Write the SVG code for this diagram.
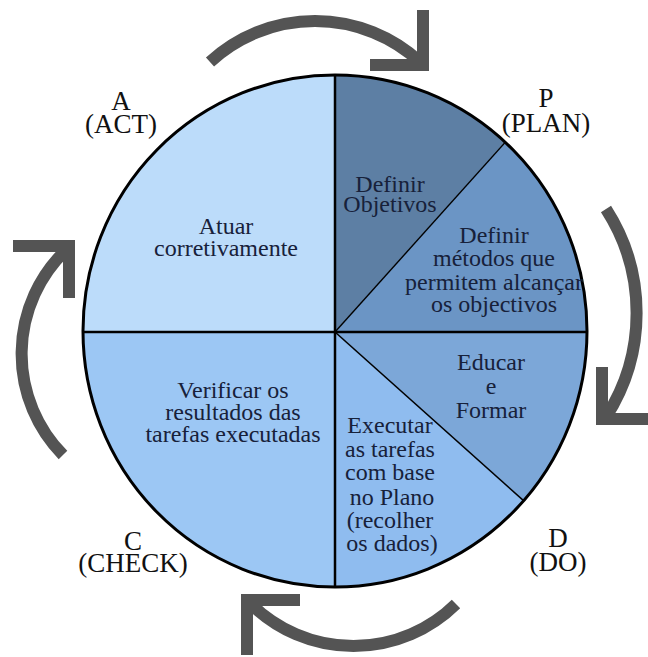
<svg xmlns="http://www.w3.org/2000/svg" width="648" height="657" viewBox="0 0 648 657">
  <style>
    .txt { font-size: 24px; fill: #17213a; text-anchor: middle; }
    .lbl { font-size: 27px; fill: #111111; text-anchor: middle; }
    .arrow { fill: none; stroke: #545454; stroke-width: 12; stroke-linecap: butt; stroke-linejoin: miter; }
    .div { stroke: #000000; fill: none; }
  </style>
  <defs>
    <clipPath id="disc">
      <ellipse cx="335" cy="331" rx="252" ry="256"/>
    </clipPath>
  </defs>

  <rect x="0" y="0" width="648" height="657" fill="#ffffff"/>

  <!-- circular cycle: sectors clipped by the disc -->
  <g id="sectors" clip-path="url(#disc)">
    <g id="act"><polygon points="0,0 335,0 335,332 0,332" fill="#bcdcfa"/></g>
    <g id="check"><polygon points="0,332 335,332 335,657 0,657" fill="#9cc7f4"/></g>
    <g id="plan-objetivos"><polygon points="335,332 335,0 633,0" fill="#5d7fa4"/></g>
    <g id="plan-metodos"><polygon points="335,332 633,0 648,0 648,332" fill="#6b95c5"/></g>
    <g id="do-educar"><polygon points="335,332 648,332 648,612" fill="#7ca7d8"/></g>
    <g id="do-executar"><polygon points="335,332 648,612 648,657 335,657" fill="#8fbcef"/></g>
    <line class="div" x1="60" y1="332" x2="610" y2="332" stroke-width="2.5"/>
    <line class="div" x1="335" y1="60" x2="335" y2="600" stroke-width="2.5"/>
    <line class="div" x1="335" y1="332" x2="633" y2="0" stroke-width="1.4"/>
    <line class="div" x1="335" y1="332" x2="648" y2="612" stroke-width="1.6"/>
  </g>
  <ellipse cx="335" cy="331" rx="252" ry="256" fill="none" stroke="#000000" stroke-width="3"/>

  <g font-family="'Liberation Serif', 'Times New Roman', serif">
  <!-- sector texts -->
  <text class="txt"><tspan x="226" y="234">Atuar</tspan><tspan x="226" y="256">corretivamente</tspan></text>
  <text class="txt"><tspan x="390" y="192">Definir</tspan><tspan x="390" y="212">Objetivos</tspan></text>
  <text class="txt"><tspan x="494" y="243">Definir</tspan><tspan x="494" y="266">métodos que</tspan><tspan x="494" y="290">permitem alcançar</tspan><tspan x="494" y="312">os objectivos</tspan></text>
  <text class="txt"><tspan x="491" y="370">Educar</tspan><tspan x="491" y="394">e</tspan><tspan x="491" y="418">Formar</tspan></text>
  <text class="txt"><tspan x="390" y="433">Executar</tspan><tspan x="390" y="457">as tarefas</tspan><tspan x="390" y="480">com base</tspan><tspan x="392" y="505">no Plano</tspan><tspan x="390" y="528">(recolher</tspan><tspan x="392" y="551">os dados)</tspan></text>
  <text class="txt"><tspan x="233" y="398">Verificar os</tspan><tspan x="233" y="420">resultados das</tspan><tspan x="233" y="442">tarefas executadas</tspan></text>

  <!-- phase labels -->
  <g id="label-a"><text class="lbl"><tspan x="121" y="110">A</tspan><tspan x="121" y="133">(ACT)</tspan></text></g>
  <g id="label-p"><text class="lbl"><tspan x="546" y="107">P</tspan><tspan x="546" y="132">(PLAN)</tspan></text></g>
  <g id="label-c"><text class="lbl"><tspan x="133" y="550">C</tspan><tspan x="133" y="572">(CHECK)</tspan></text></g>
  <g id="label-d"><text class="lbl"><tspan x="558" y="547">D</tspan><tspan x="558" y="571">(DO)</tspan></text></g>
  </g>

  <!-- cycle arrows -->
  <g id="connectors">
    <g id="arrow-act-plan">
      <path class="arrow" d="M210,62 A155,155 0 0 1 420,62"/>
      <polyline class="arrow" points="423,10 423,65 370,65"/>
    </g>
    <g id="arrow-plan-do">
      <path class="arrow" d="M606,209 A192,192 0 0 1 606,417"/>
      <polyline class="arrow" points="602,367 602,419 650,419"/>
    </g>
    <g id="arrow-do-check">
      <path class="arrow" d="M456,604 A146,146 0 0 1 251,604"/>
      <polyline class="arrow" points="300,600 247,600 247,655"/>
    </g>
    <g id="arrow-check-act">
      <path class="arrow" d="M63,455 A144,144 0 0 1 66,250"/>
      <polyline class="arrow" points="13,246 69,246 69,298"/>
    </g>
  </g>
</svg>
